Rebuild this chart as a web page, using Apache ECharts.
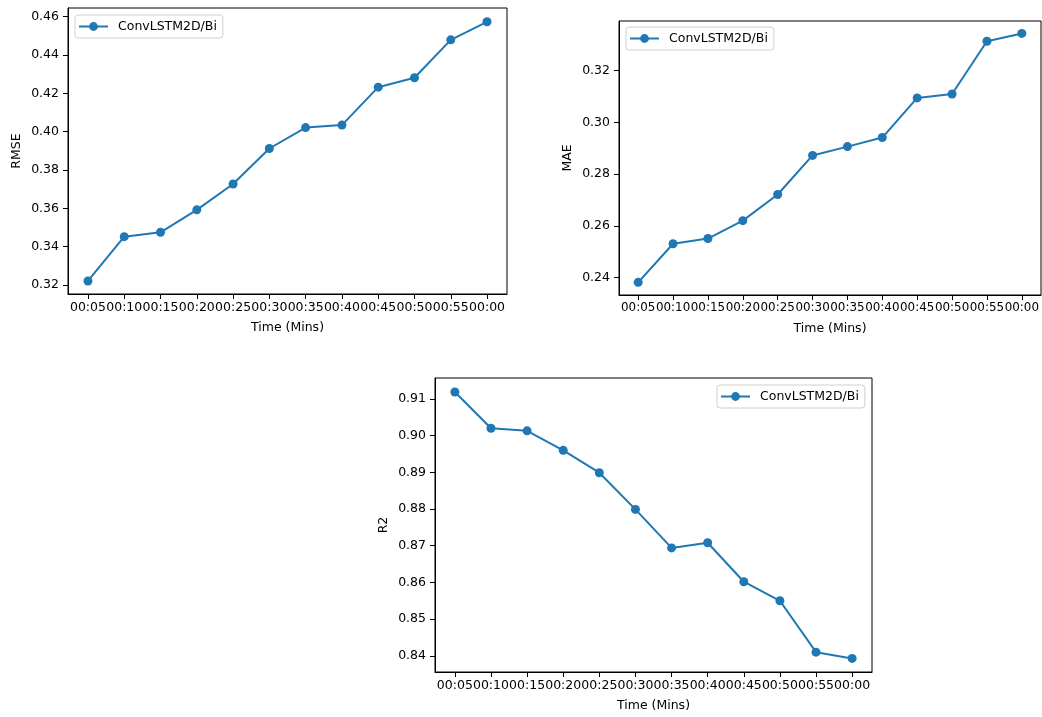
<!DOCTYPE html>
<html>
<head>
<meta charset="utf-8">
<script src="https://cdn.jsdelivr.net/npm/echarts@6/dist/echarts.min.js"></script>
<style>
  html, body { margin: 0; padding: 0; background: #fff; }
  #chart { width: 1042px; height: 717px; }
</style>
</head>
<body>
<div id="chart"></div>
<script>
// ---- data ----
const timeLabels = ['00:05','00:10','00:15','00:20','00:25','00:30','00:35','00:40','00:45','00:50','00:55','00:00'];
const seriesName = 'ConvLSTM2D/Bi';
const rmseValues = [0.3221, 0.3452, 0.3475, 0.3592, 0.3727, 0.3912, 0.4021, 0.4034, 0.4232, 0.4281, 0.4479, 0.4573];
const maeValues  = [0.2382, 0.2531, 0.2551, 0.2620, 0.2721, 0.2872, 0.2906, 0.2941, 0.3094, 0.3109, 0.3313, 0.3343];
const r2Values   = [0.9119, 0.9020, 0.9013, 0.8960, 0.8899, 0.8799, 0.8694, 0.8708, 0.8602, 0.8550, 0.8410, 0.8393];
const rmseTicks = [0.32, 0.34, 0.36, 0.38, 0.40, 0.42, 0.44, 0.46];
const maeTicks  = [0.24, 0.26, 0.28, 0.30, 0.32];
const r2Ticks   = [0.84, 0.85, 0.86, 0.87, 0.88, 0.89, 0.90, 0.91];

// ---- build ----
const FONT = 'DejaVu Sans';
const FS = 12.5;
const COLOR = '#1f77b4';
const xIdx = timeLabels.map((_, i) => i);

const panels = [
  { name: 'RMSE', values: rmseValues, ticks: rmseTicks, dec: 2, xFs: 12.5,
    grid: { left: 68, top: 8, width: 439, height: 286 },
    yMin: 0.3153, yMax: 0.4645,
    legend: { left: 75, top: 15 } },
  { name: 'MAE', values: maeValues, ticks: maeTicks, dec: 2, xFs: 11.9,
    grid: { left: 619, top: 21, width: 422, height: 274 },
    yMin: 0.2333, yMax: 0.3391,
    legend: { left: 626, top: 27 } },
  { name: 'R2', values: r2Values, ticks: r2Ticks, dec: 2, xFs: 12.5,
    grid: { left: 435, top: 378, width: 437, height: 294 },
    yMin: 0.8356, yMax: 0.9157,
    legend: { left: 717, top: 385 } }
];

const grids = [], xAxes = [], yAxes = [], series = [], legends = [];
panels.forEach((p, k) => {
  grids.push(Object.assign({ show: true, borderColor: '#000', borderWidth: 1, backgroundColor: '#fff', containLabel: false }, p.grid));
  xAxes.push({
    type: 'value', gridIndex: k, min: -0.55, max: 11.55,
    name: 'Time (Mins)', nameLocation: 'middle', nameGap: 27,
    nameTextStyle: { fontFamily: FONT, fontSize: FS, color: '#000' },
    axisLine: { show: true, onZero: false, lineStyle: { color: '#000', width: 1 } },
    axisTick: { show: true, inside: false, length: 5, lineStyle: { color: '#000' }, customValues: xIdx },
    axisLabel: { show: true, margin: 7, fontFamily: FONT, fontSize: p.xFs, color: '#000',
      showMinLabel: true, showMaxLabel: true, hideOverlap: false,
      customValues: xIdx, formatter: v => timeLabels[Math.round(v)] },
    splitLine: { show: false }
  });
  yAxes.push({
    type: 'value', gridIndex: k, min: p.yMin, max: p.yMax,
    name: p.name, nameLocation: 'middle', nameGap: 45, nameRotate: 90,
    nameTextStyle: { fontFamily: FONT, fontSize: FS, color: '#000' },
    axisLine: { show: true, onZero: false, lineStyle: { color: '#000', width: 1 } },
    axisTick: { show: true, inside: false, length: 5, lineStyle: { color: '#000' }, customValues: p.ticks },
    axisLabel: { show: true, margin: 9, fontFamily: FONT, fontSize: FS, color: '#000',
      showMinLabel: true, showMaxLabel: true, hideOverlap: false,
      customValues: p.ticks, formatter: v => v.toFixed(p.dec) },
    splitLine: { show: false }
  });
  series.push({
    type: 'line', name: seriesName, xAxisIndex: k, yAxisIndex: k,
    data: p.values.map((v, i) => [xIdx[i], v]),
    symbol: 'circle', symbolSize: 9, showSymbol: true,
    lineStyle: { color: COLOR, width: 2 },
    itemStyle: { color: COLOR },
    emphasis: { disabled: true }
  });
  legends.push(Object.assign({
    data: [seriesName], orient: 'vertical',
    backgroundColor: 'rgba(255,255,255,0.8)', borderColor: '#d0d0d0', borderWidth: 1, borderRadius: 3,
    padding: [5, 6, 5, 3], itemWidth: 29, itemHeight: 11,
    textStyle: { fontFamily: FONT, fontSize: FS, color: '#000', padding: [0, 0, 0, 5] }
  }, p.legend));
});

const chart = echarts.init(document.getElementById('chart'), null, { renderer: 'canvas' });
chart.setOption({
  animation: false,
  backgroundColor: '#fff',
  grid: grids, xAxis: xAxes, yAxis: yAxes, series: series, legend: legends
});
</script>
</body>
</html>
